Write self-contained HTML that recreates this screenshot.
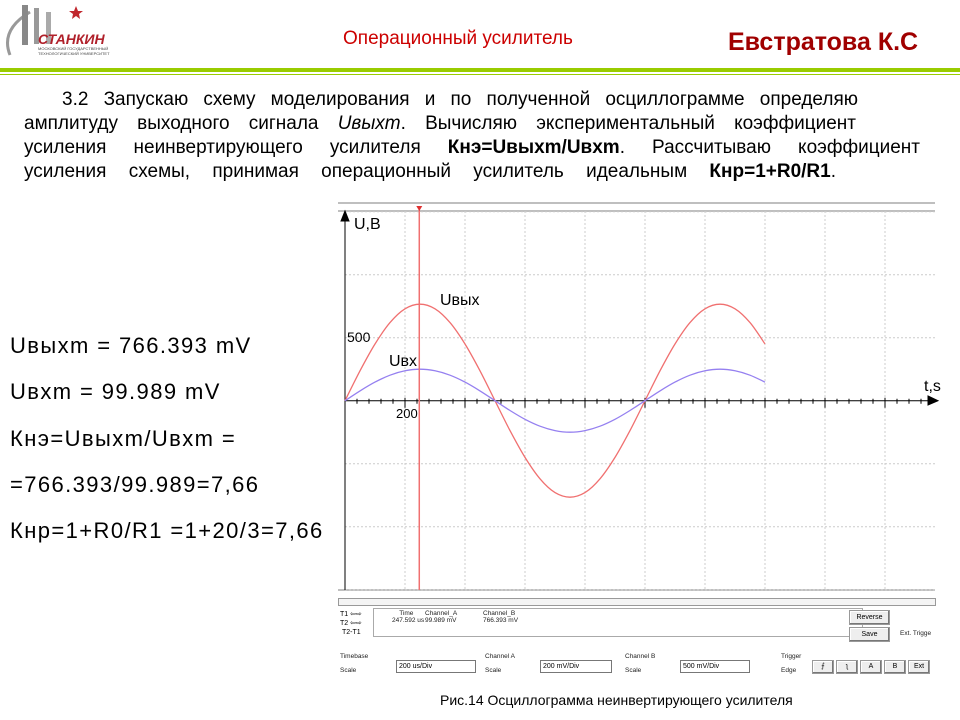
<!DOCTYPE html>
<html><head><meta charset="utf-8"><style>
body{margin:0;width:960px;height:720px;background:#fff;position:relative;overflow:hidden;font-family:"Liberation Sans","DejaVu Sans",sans-serif}
.a{position:absolute;white-space:nowrap}
.pl{position:absolute;font-size:19px;white-space:nowrap;text-align:justify;text-align-last:justify;color:#000;font-family:"Liberation Sans Narrow","Liberation Sans",sans-serif}
.lt{position:absolute;left:10px;font-size:22px;color:#000;letter-spacing:1.4px}
.sm{font-size:6.5px;position:absolute;color:#222;font-family:"Liberation Sans",sans-serif;line-height:7px}
.btn{position:absolute;background:#eee;border:1px solid #999;box-shadow:inset -1px -1px #777,inset 1px 1px #fff;font-size:7px;text-align:center;line-height:13px}
.inp{position:absolute;background:#fff;border:1px solid #777;font-size:7px;line-height:11px;padding-left:2px}
</style></head><body>
<div class="a" style="left:0;top:0;width:118px;height:64px">
<svg width="118" height="64"><path d="M10 55 Q0 30 30 12" stroke="#999" stroke-width="3" fill="none"/><rect x="22" y="5" width="6" height="40" fill="#888"/><rect x="34" y="8" width="5" height="36" fill="#999"/><rect x="46" y="12" width="5" height="32" fill="#aaa"/><polygon points="76,6 78,11 83,11 79,14 80,19 76,16 72,19 73,14 69,11 74,11" fill="#c0272d"/><text x="38" y="44" font-size="14" font-weight="bold" fill="#b0202a" font-style="italic">СТАНКИН</text><text x="38" y="50" font-size="4" fill="#444">МОСКОВСКИЙ ГОСУДАРСТВЕННЫЙ</text><text x="38" y="55" font-size="4" fill="#444">ТЕХНОЛОГИЧЕСКИЙ УНИВЕРСИТЕТ</text></svg></div>
<div class="a" style="left:0;top:68px;width:960px;height:4px;background:#99cc00"></div>
<div class="a" style="left:0;top:74px;width:960px;height:1px;background:#99cc00"></div>
<div class="a" style="left:343px;top:28px;font-size:19px;color:#cc0000">Операционный усилитель</div>
<div class="a" style="left:728px;top:28px;font-size:25px;font-weight:bold;color:#a00000">Евстратова К.С</div>

<div class="pl" style="left:62px;top:89px;width:796px">3.2 Запускаю схему моделирования и по полученной осциллограмме определяю</div>
<div class="pl" style="left:24px;top:113px;width:832px">амплитуду выходного сигнала <i>Uвыхm</i>. Вычисляю экспериментальный коэффициент</div>
<div class="pl" style="left:24px;top:137px;width:896px">усиления неинвертирующего усилителя <b>Кнэ=Uвыхm/Uвхm</b>. Рассчитываю коэффициент</div>
<div class="pl" style="left:24px;top:161px;width:812px">усиления схемы, принимая операционный усилитель идеальным <b>Кнр=1+R0/R1</b>.</div>

<div class="lt a" style="top:333px">Uвыхm = 766.393 mV</div>
<div class="lt a" style="top:379px">Uвхm = 99.989 mV</div>
<div class="lt a" style="top:426px">Кнэ=Uвыхm/Uвхm =</div>
<div class="lt a" style="top:472px">=766.393/99.989=7,66</div>
<div class="lt a" style="top:518px">Кнр=1+R0/R1 =1+20/3=7,66</div>

<svg id="chart" class="a" style="left:0;top:0" width="960" height="720"></svg>

<div class="a" style="left:338px;top:598px;width:596px;height:6px;border:1px solid #999;background:#f4f4f4"></div>
<div class="a" style="left:340px;top:610px;width:32px;height:34px;font-size:7px;line-height:9px">T1 ⇦⇨<br>T2 ⇦⇨<br>&nbsp;T2-T1</div>
<div class="a" style="left:373px;top:608px;width:488px;height:27px;background:#fff;border:1px solid #aaa"></div>
<div class="sm" style="left:392px;top:610px">&nbsp;&nbsp;&nbsp;&nbsp;Time<br>247.592 us</div>
<div class="sm" style="left:425px;top:610px">Channel_A<br>99.989 mV</div>
<div class="sm" style="left:483px;top:610px">Channel_B<br>766.393 mV</div>
<div class="btn" style="left:849px;top:610px;width:39px;height:13px">Reverse</div>
<div class="btn" style="left:849px;top:627px;width:39px;height:13px">Save</div>
<div class="sm" style="left:900px;top:630px">Ext. Trigge</div>
<div class="sm" style="left:340px;top:653px">Timebase<br><br>Scale</div>
<div class="inp" style="left:396px;top:660px;width:76px">200 us/Div</div>
<div class="sm" style="left:485px;top:653px">Channel A<br><br>Scale</div>
<div class="inp" style="left:540px;top:660px;width:68px">200 mV/Div</div>
<div class="sm" style="left:625px;top:653px">Channel B<br><br>Scale</div>
<div class="inp" style="left:680px;top:660px;width:66px">500 mV/Div</div>
<div class="sm" style="left:781px;top:653px">Trigger<br><br>Edge</div>
<div class="btn" style="left:812px;top:660px;width:20px;height:12px;line-height:12px">⨍</div>
<div class="btn" style="left:836px;top:660px;width:20px;height:12px;line-height:12px">ʅ</div>
<div class="btn" style="left:860px;top:660px;width:20px;height:12px;line-height:12px">A</div>
<div class="btn" style="left:884px;top:660px;width:20px;height:12px;line-height:12px">B</div>
<div class="btn" style="left:908px;top:660px;width:20px;height:12px;line-height:12px">Ext</div>
<div class="a" style="left:440px;top:692px;font-size:14px">Рис.14 Осциллограмма неинвертирующего усилителя</div>

<script>
const times=[0,50,100,150,200,250,300,350,400,450,500,550,600,650,700,750,800,850,900,950,1000,1050,1100,1150,1200,1250,1300,1350,1400];
const uOut=[0,237,450,620,729,766,729,620,450,237,0,-237,-450,-620,-729,-766,-729,-620,-450,-237,0,237,450,620,729,766,729,620,450];
const uIn=[0,31,59,81,95,100,95,81,59,31,0,-31,-59,-81,-95,-100,-95,-81,-59,-31,0,31,59,81,95,100,95,81,59];
const cursorTime=247.6;
const gridTimes=[200,400,600,800,1000,1200,1400,1600,1800];
const x0=345,y0=400.7,pxPerUs=0.3,divPx=63;
const X=t=>x0+t*pxPerUs;
const YB=v=>y0-v/500*divPx;
const YA=v=>y0-v/200*divPx;
const svg=document.getElementById('chart');const NS='http://www.w3.org/2000/svg';
function mk(tag,attrs,parent){const e=document.createElementNS(NS,tag);for(const k in attrs)e.setAttribute(k,attrs[k]);(parent||svg).appendChild(e);return e;}
mk('line',{x1:338,y1:203,x2:935,y2:203,stroke:'#aaa','stroke-width':1.5});
mk('line',{x1:338,y1:211,x2:935,y2:211,stroke:'#aaa','stroke-width':1.5});
mk('line',{x1:338,y1:590,x2:935,y2:590,stroke:'#aaa','stroke-width':1.5});
const grid=mk('g',{});
gridTimes.forEach(t=>{mk('line',{x1:X(t),y1:211,x2:X(t),y2:590,stroke:'#ccc','stroke-dasharray':'2,2'},grid);});
[-3,-2,-1,1,2,3].forEach(d=>{const y=y0-d*divPx;if(y>211&&y<590)mk('line',{x1:345,y1:y,x2:935,y2:y,stroke:'#ccc','stroke-dasharray':'2,2'},grid);});
const ax=mk('g',{stroke:'#000','stroke-width':1});
mk('line',{x1:345,y1:213,x2:345,y2:590},ax);mk('line',{x1:345,y1:y0,x2:930,y2:y0},ax);
mk('polygon',{points:`341,221 345,211 349,221`,fill:'#000'},ax);
mk('polygon',{points:`928,396 938,${y0} 928,405`,fill:'#000'},ax);
for(let t=40;t<1940;t+=40){const big=t%200===0;mk('line',{x1:X(t),y1:y0-(big?3:2),x2:X(t),y2:y0+(big?7:3)},ax);}
function path(vals,fy){
  const p=vals.map((v,i)=>[X(times[i]),fy(v)]);
  let d='M'+p[0][0].toFixed(1)+','+p[0][1].toFixed(1);
  for(let i=0;i<p.length-1;i++){
    const a=p[Math.max(i-1,0)],b=p[i],c=p[i+1],e=p[Math.min(i+2,p.length-1)];
    const c1=[b[0]+(c[0]-a[0])/6,b[1]+(c[1]-a[1])/6],c2=[c[0]-(e[0]-b[0])/6,c[1]-(e[1]-b[1])/6];
    d+=` C${c1[0].toFixed(1)},${c1[1].toFixed(1)} ${c2[0].toFixed(1)},${c2[1].toFixed(1)} ${c[0].toFixed(1)},${c[1].toFixed(1)}`;
  }
  return d;}
const po=mk('path',{d:path(uOut,YB),fill:'none',stroke:'#f07070','stroke-width':1.3});

const pi=mk('path',{d:path(uIn,YA),fill:'none',stroke:'#9580f0','stroke-width':1.3});

const cur=mk('line',{x1:X(cursorTime),y1:207,x2:X(cursorTime),y2:590,stroke:'#f07070','stroke-width':1.5});

mk('polygon',{points:`${X(cursorTime)-3},206 ${X(cursorTime)+3},206 ${X(cursorTime)},211`,fill:'#e03030'});
function txt(x,y,s,name,size){const e=mk('text',{x:x,y:y,'font-size':size||15,'font-family':'Liberation Sans, sans-serif',fill:'#000'});e.textContent=s;}
txt(354,229,'U,B','y-axis-title',16);txt(924,391,'t,s','x-axis-title',16);
txt(347,342,'500','y-tick-500',14);txt(396,418,'200','x-tick-200',13);
txt(440,305,'Uвых','uout-label',16);txt(389,366,'Uвх','uin-label',16);
</script>
</body></html>
